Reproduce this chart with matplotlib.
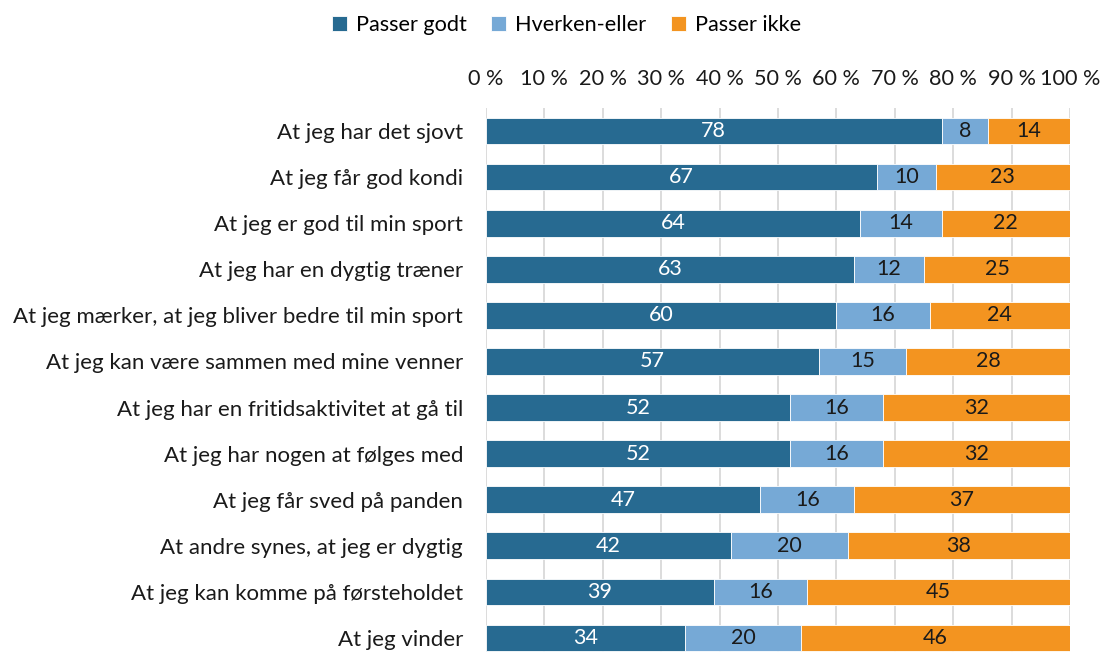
import matplotlib.pyplot as plt
import numpy as np

plt.rcParams['font.family'] = ['Lato', 'DejaVu Sans']

# Data (top to bottom)
items = [
    'At jeg har det sjovt',
    'At jeg får god kondi',
    'At jeg er god til min sport',
    'At jeg har en dygtig træner',
    'At jeg mærker, at jeg bliver bedre til min sport',
    'At jeg kan være sammen med mine venner',
    'At jeg har en fritidsaktivitet at gå til',
    'At jeg har nogen at følges med',
    'At jeg får sved på panden',
    'At andre synes, at jeg er dygtig',
    'At jeg kan komme på førsteholdet',
    'At jeg vinder',
]
passer_godt = [78, 67, 64, 63, 60, 57, 52, 52, 47, 42, 39, 34]
hverken = [8, 10, 14, 12, 16, 15, 16, 16, 16, 20, 16, 20]
passer_ikke = [14, 23, 22, 25, 24, 28, 32, 32, 37, 38, 45, 46]

series_names = ['Passer godt', 'Hverken-eller', 'Passer ikke']
colors = ['#276A91', '#76A9D6', '#F39420']
text_colors = ['white', '#1a1a1a', '#1a1a1a']

fig = plt.figure(figsize=(11.02, 6.52), dpi=100)
ax = fig.add_axes([486 / 1102, -9 / 652, 584 / 1102, 553 / 652])

y = np.arange(len(items))
left = np.zeros(len(items))
for vals, name, col, tcol in zip([passer_godt, hverken, passer_ikke], series_names, colors, text_colors):
    vals = np.array(vals, dtype=float)
    ax.barh(y, vals, left=left, height=0.58, color=col, label=name,
            edgecolor='white', linewidth=0.6, zorder=3)
    for yi, l, v in zip(y, left, vals):
        ax.text(l + v / 2, yi, f'{int(v)}', ha='center', va='center',
                color=tcol, fontsize=15.5, zorder=4)
    left += vals

ax.set_xlim(0, 100)
ax.set_ylim(len(items) - 0.5, -0.5)
ax.set_yticks(y)
ax.set_yticklabels(items, fontsize=16, color='#1a1a1a')
ax.set_xticks(np.arange(0, 101, 10))
ax.set_xticklabels([f'{t} %' for t in range(0, 101, 10)], fontsize=15.6, color='#1a1a1a')
ax.xaxis.tick_top()
ax.tick_params(axis='x', length=0, pad=13.5)
ax.tick_params(axis='y', length=0, pad=16.5)
ax.grid(axis='x', color='#D9D9D9', linewidth=1.3, zorder=0)
for s in ax.spines.values():
    s.set_visible(False)

fig.legend(loc='center', bbox_to_anchor=(0.514, 0.962), ncol=3, frameon=False,
           fontsize=15.6, handlelength=0.7, handleheight=0.7, handletextpad=0.4,
           columnspacing=1.15)

fig.savefig('out.png', dpi=100)
